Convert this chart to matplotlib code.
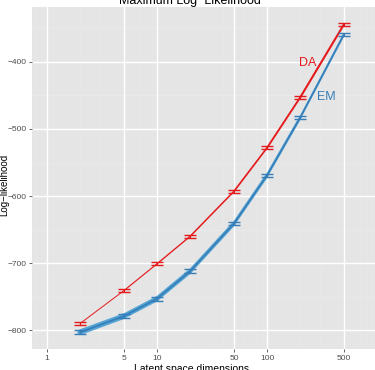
"""
潜在次元数ごとの最大対数尤度（DA と EM）を ggplot 風に描く。
"""
import numpy as np
import matplotlib
matplotlib.use("Agg")
import matplotlib.pyplot as plt

# データ
dims = [2, 5, 10, 20, 50, 100, 200, 500]
da_ll = [-790, -741, -701, -660, -593, -528, -453, -344]
da_err = [2, 2, 2, 2, 2, 2, 2, 2]
em_ll = [-803, -779, -753, -712, -641, -569, -483, -359]
em_err = [3, 3, 3, 3, 2, 2, 2, 2]
x_ticks = [1, 5, 10, 50, 100, 500]
y_ticks = [-400, -500, -600, -700, -800]

plt.rcParams['font.family'] = ['Liberation Sans', 'DejaVu Sans']

RED = "#E41A1C"
BLUE = "#377EB8"


def draw_varying(ax, x, y, widths, color, alpha=1.0, z=3):
    # ggplot の size マッピングを区間ごとの線幅で近似
    for i in range(len(x) - 1):
        ax.plot(x[i:i + 2], y[i:i + 2], color=color, lw=widths[i],
                alpha=alpha, solid_capstyle='round', zorder=z)


fig = plt.figure(figsize=(3.75, 3.7), dpi=100)
ax = fig.add_axes([0.0853, 0.0568, 0.9147, 0.9232])
ax.set_facecolor("#E5E5E5")
ax.set_xscale("log")
ax.set_xlim(0.731, 957)
ax.set_ylim(-828, -318.7)

# グリッド（主・副）
minor_x = [m * 10 ** d for d in range(-1, 3) for m in range(2, 10) if m != 5]
for v in minor_x:
    ax.axvline(v, color="#E9E9E9", lw=0.5, zorder=0)
for v in [-350, -450, -550, -650, -750]:
    ax.axhline(v, color="#EBEBEB", lw=0.5, zorder=0)
for v in x_ticks:
    ax.axvline(v, color="white", lw=1.0, zorder=1)
for v in y_ticks:
    ax.axhline(v, color="white", lw=1.0, zorder=1)

n = len(dims)
# EM：太い帯＋中心線
draw_varying(ax, dims, em_ll, np.linspace(4.0, 1.6, n - 1), "#55A5D5", z=3)
draw_varying(ax, dims, em_ll, np.linspace(1.3, 1.1, n - 1), BLUE, z=4)
# DA：細→太
draw_varying(ax, dims, da_ll, np.linspace(0.7, 1.5, n - 1), RED, z=5)

ax.errorbar(dims, em_ll, yerr=em_err, fmt='none', ecolor=BLUE,
            elinewidth=0.8, capsize=4.5, capthick=1.0, zorder=6)
ax.errorbar(dims, da_ll, yerr=da_err, fmt='none', ecolor=RED,
            elinewidth=0.8, capsize=4.5, capthick=1.0, zorder=7)

ax.text(234, -401, "DA", color=RED, fontsize=9, ha='center', va='center')
ax.text(349, -452, "EM", color=BLUE, fontsize=9, ha='center', va='center')

ax.set_xticks(x_ticks)
ax.set_xticklabels([str(v) for v in x_ticks])
ax.xaxis.set_minor_locator(plt.NullLocator())
ax.set_yticks(y_ticks)
ax.set_yticklabels([f"\u2212{abs(v)}" for v in y_ticks])
ax.tick_params(axis='both', length=2.5, width=0.6, color="#4D4D4D",
               labelcolor="#4D4D4D", labelsize=6, pad=1.5)
for s in ax.spines.values():
    s.set_visible(False)

fig.text(0.507, 0.997, "Maximum Log\u2212Likelihood", ha='center', va='center',
         fontsize=9)
fig.text(0.51, 0.004, "Latent space dimensions", ha='center',
         va='center', fontsize=7.5)
fig.text(0.0105, 0.5, "Log\u2212likelihood", ha='center', va='center',
         rotation=90, fontsize=7)

fig.savefig("out.png", dpi=100)
